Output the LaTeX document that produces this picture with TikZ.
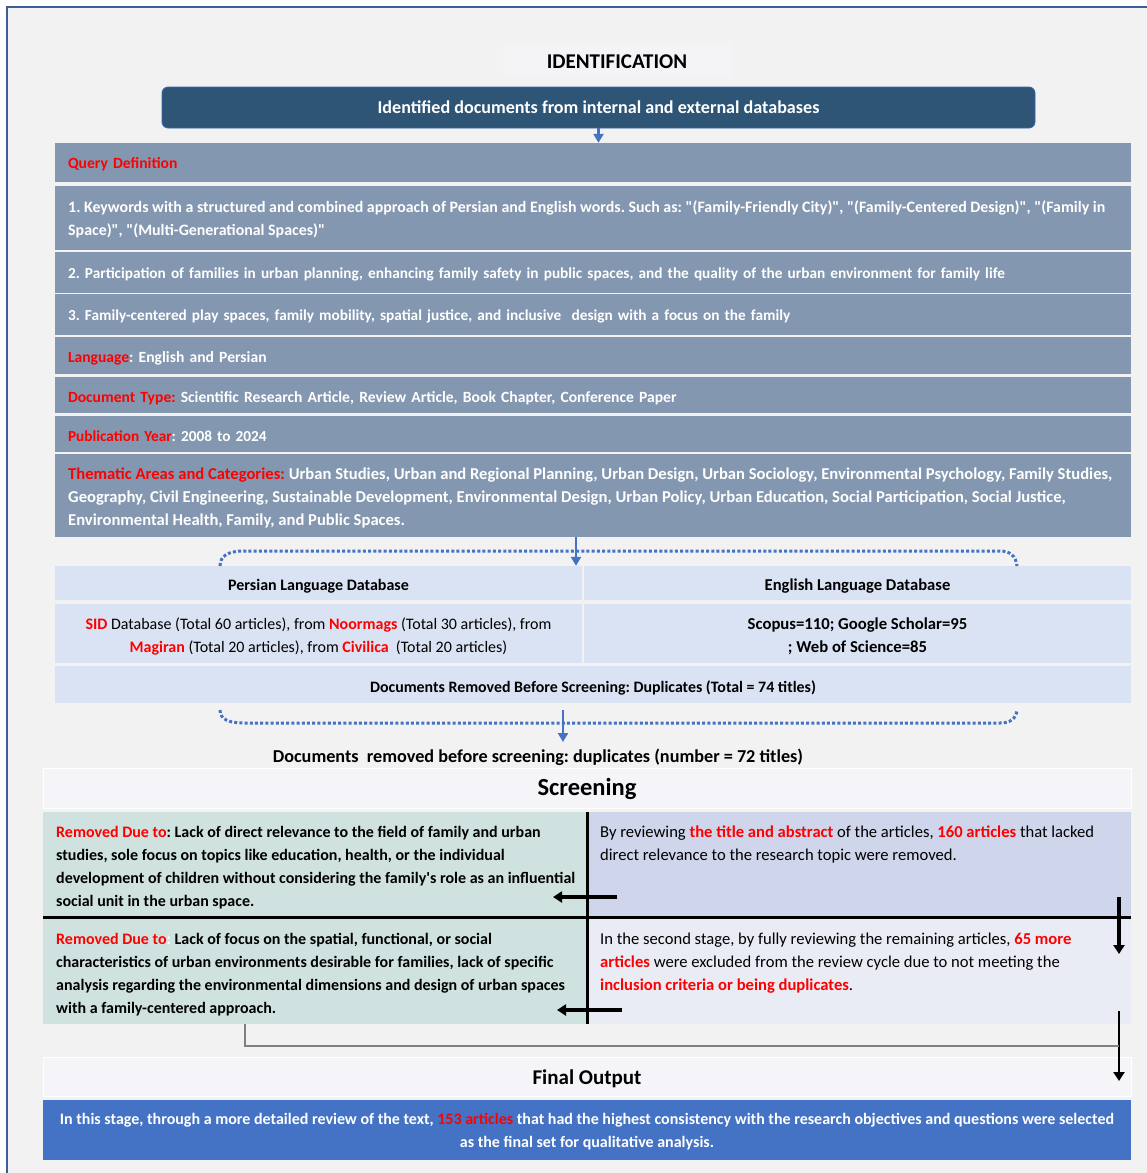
\documentclass[tikz,border=0pt]{standalone}
\usepackage{fontspec}
\setmainfont{Carlito}
\newfontfamily\carl{Carlito}
\usetikzlibrary{arrows.meta,calc}
\definecolor{bgc}{HTML}{F2F2F2}
\definecolor{framec}{HTML}{3C5F9A}
\definecolor{barc}{HTML}{8497B0}
\definecolor{dbcol}{HTML}{DAE3F3}
\definecolor{idc}{HTML}{F4F4F7}
\definecolor{darkc}{HTML}{2E5476}
\definecolor{slc}{HTML}{CFE2DF}
\definecolor{sraone}{HTML}{CFD5EA}
\definecolor{sratwo}{HTML}{E9EBF5}
\definecolor{hdc}{HTML}{F4F4F9}
\definecolor{finc}{HTML}{4472C4}
\definecolor{arrc}{HTML}{4472C4}
\definecolor{redc}{HTML}{FF0000}
\definecolor{grayline}{HTML}{808080}
\newcommand{\fsz}[1]{\fontsize{#1}{23}\selectfont}
\newcommand{\rd}[1]{\textcolor{redc}{#1}}
\newcommand{\rdb}[1]{\textcolor{redc}{\bfseries #1}}
\frenchspacing
\begin{document}
\carl\frenchspacing
\begin{tikzpicture}[x=1pt,y=-1pt,
  one/.style={text height=12pt, text depth=0pt},
  onehi/.style={text height=15pt, text depth=0pt},
  bar/.style={fill=barc, text width=1050pt, inner xsep=13pt, inner ysep=0pt, align=left, text=white, font=\carl\bfseries\fsz{15.3}},
  barfill/.style={fill=barc, minimum width=1076pt, inner sep=0pt},
  bartext/.style={inner sep=0pt, align=left, anchor=north west, text=white},
  dbcell/.style={fill=dbcol, inner sep=0pt, text=black, align=center},
  cell/.style={inner sep=0pt, minimum width=544pt},
  txt/.style={inner sep=0pt, align=left, anchor=north west},
  hdr/.style={fill=hdc, draw=white, line width=1pt, minimum width=1088pt, inner sep=0pt},
  bluearrow/.style={draw=arrc, line width=2.6pt, -{Triangle[length=9pt,width=10pt]}},
  dotbr/.style={draw=arrc, line width=3pt, dash pattern=on 3pt off 2.2pt},
  blackarrow/.style={draw=black, line width=3.2pt, -{Triangle[length=9pt,width=11pt]}},
]
\useasboundingbox (0,0) rectangle (1147,1173);
\fill[white] (0,0) rectangle (1147,1173);
\fill[bgc] (7,7) rectangle (1147,1173);
\draw[framec, line width=1.2pt] (7,1173) -- (7,7) -- (1147,7);

% Identification
\node[text height=17pt, text depth=0pt, fill=idc, minimum width=229pt, minimum height=34pt, inner sep=0pt, font=\carl\bfseries\fontsize{21}{24}\selectfont] (ident) at (617,60) {IDENTIFICATION};
\node[one, fill=darkc, draw=arrc!70!darkc, line width=0.8pt, rounded corners=6pt, minimum width=873pt, minimum height=41pt, inner sep=0pt, text=white, font=\carl\bfseries\fontsize{18.1}{21}\selectfont] (idbox) at (598.5,107.5) {Identified documents from internal and external databases};

\node[bar, one, minimum height=39pt, font=\carl\bfseries\fsz{15.6}] (q) at (593,162.5) {\rd{Query Definition}};
\node[barfill, minimum height=64pt] (r1) at (593,218) {};
\node[bartext, font=\carl\bfseries\fsz{15.9}] (r1t) at (68,200) {1. Keywords with a structured and combined approach of Persian and English words. Such as: "(Family-Friendly City)", "(Family-Centered Design)", "(Family in\\Space)", "(Multi-Generational Spaces)"};
\node[bar, one, minimum height=41pt] (r2) at (593,272.5) {2. Participation of families in urban planning, enhancing family safety in public spaces, and the quality of the urban environment for family life};
\node[bar, one, minimum height=41pt] (r3) at (593,314.5) {3. Family-centered play spaces, family mobility, spatial justice, and inclusive\ \ design with a focus on the family};
\node[bar, onehi, minimum height=37pt, font=\carl\bfseries\fsz{15.6}] (lang) at (593,355) {\rd{Language}: English and Persian};
\node[bar, onehi, minimum height=36pt, font=\carl\bfseries\fsz{15.6}] (doc) at (593,394.5) {\rd{Document Type:} Scientific Research Article, Review Article, Book Chapter, Conference Paper};
\node[bar, onehi, minimum height=36pt, font=\carl\bfseries\fsz{15.3}] (pub) at (593,434) {\rd{Publication Year}: 2008 to 2024};
\node[barfill, minimum height=83pt] (them) at (593,495.5) {};
\node[bartext, font=\carl\bfseries\fsz{16.6}] (themt) at (68,468) {\rd{Thematic Areas and Categories:} Urban Studies, Urban and Regional Planning, Urban Design, Urban Sociology, Environmental Psychology, Family Studies,\\Geography, Civil Engineering, Sustainable Development, Environmental Design, Urban Policy, Urban Education, Social Participation, Social Justice,\\Environmental Health, Family, and Public Spaces.};

\draw[bluearrow, line width=2.2pt] (idbox.south) -- (q.north -| idbox.south);

% database table
\node[dbcell, onehi, minimum width=527pt, minimum height=34pt, font=\carl\bfseries\fsz{16}] (hP) at (318.5,583) {Persian Language Database};
\node[dbcell, onehi, minimum width=547pt, minimum height=34pt, font=\carl\bfseries\fsz{16.6}] (hE) at (857.5,583) {English Language Database};
\node[dbcell, minimum width=527pt, minimum height=59pt] (cP) at (318.5,633.5) {};
\node[dbcell, minimum width=547pt, minimum height=59pt] (cE) at (857.5,633.5) {};
\node[inner sep=0pt, align=center, anchor=north, font=\carl\fsz{16}] (cPt) at (318.5,617.5) {\rdb{SID} Database (Total 60 articles), from \rdb{Noormags} (Total 30 articles), from\\\rdb{Magiran} (Total 20 articles), from \rdb{Civilica}\ \ (Total 20 articles)};
\node[inner sep=0pt, align=center, anchor=north, font=\carl\bfseries\fsz{16.7}] (cEt) at (857.5,617.5) {Scopus=110; Google Scholar=95\\; Web of Science=85};
\node[dbcell, onehi, minimum width=1076pt, minimum height=37pt, font=\carl\bfseries\fsz{15.9}] (dup) at (593,684.5) {Documents Removed Before Screening: Duplicates (Total = 74 titles)};

\coordinate (brA1) at (220,566);
\coordinate (brA2) at (1017,566);
\draw[dotbr] (brA1) .. controls (220,556) and (228,551) .. (244,551) -- (1000,551) .. controls (1010,551) and (1016,556) .. (brA2);
\draw[bluearrow] (them.south -| 576,0) -- (hP.north -| 576,0);

\coordinate (brB1) at (220,710);
\coordinate (brB2) at (1017,710);
\draw[dotbr] (brB1) .. controls (220,719) and (228,723) .. (244,723) -- (1000,723) .. controls (1010,723) and (1016,719) .. (brB2);

\node[inner sep=0pt, font=\carl\bfseries\fontsize{18.2}{21}\selectfont] (rem) at (538,757) {Documents\ \ removed before screening: duplicates (number = 72 titles)};
\coordinate (arB) at (563,710);
\draw[bluearrow] (arB) -- (563,742);

% Screening
\node[hdr, minimum height=40pt, font=\carl\bfseries\fontsize{24.5}{28}\selectfont] (scr) at (587,788.5) {Screening};
\node[cell, fill=slc, minimum height=105pt] (sl1) at (315,864.5) {};
\node[cell, fill=sraone, minimum height=105pt] (sr1) at (859,864.5) {};
\node[cell, fill=slc, minimum height=107pt] (sl2) at (315,970.5) {};
\node[cell, fill=sratwo, minimum height=107pt] (sr2) at (859,970.5) {};

\node[txt, font=\carl\bfseries\fsz{16}] (tl1) at (56,826) {\rd{Removed Due to}: Lack of direct relevance to the field\ of family and urban\\studies, sole focus on topics like education, health, or the individual\\development of children without considering the family's role as an influential\\social unit in the urban space.};
\node[txt, font=\carl\bfseries\fsz{16}] (tl2) at (56,933) {\rd{Removed Due to}\textcolor{white}{:} Lack of focus on the spatial, functional, or social\\characteristics of urban environments desirable for families, lack of specific\\analysis regarding the environmental dimensions and design of urban spaces\\with a family-centered approach.};
\node[txt, font=\carl\fsz{16.6}] (tr1) at (600,826) {By reviewing\ \rdb{the title and abstract} of the articles, \rdb{160 articles} that lacked\\direct relevance to the research topic were removed.};
\node[txt, font=\carl\fsz{16.6}] (tr2) at (600,933) {In the second stage, by fully reviewing the remaining articles, \rdb{65 more}\\\rdb{articles} were excluded from the review cycle due to not meeting the\\\rdb{inclusion criteria or being duplicates}.};

\draw[black, line width=3pt] (sl1.north east) -- (sl2.south east);
\draw[black, line width=3pt] (sl1.south west) -- (sr1.south east);

\coordinate (la1) at (617,897);
\coordinate (la2) at (622,1010);
\draw[blackarrow] (la1) -- (la1 -| 553,0);
\draw[blackarrow] (la2) -- (la2 -| 557,0);
\coordinate (da1) at (1119,897);
\coordinate (da2) at (1119,1011);
\draw[blackarrow] (da1) -- (1119,954);

% Final
\node[hdr, onehi, minimum height=39pt, font=\carl\bfseries\fontsize{21}{24}\selectfont] (fo) at (587,1076.5) {Final Output};
\draw[blackarrow, line width=2.6pt] (da2) -- (1119,1081);
\draw[grayline, line width=1.5pt] (sl2.south -| 245,0) -- (245,1046) -- (1119,1046);
\node[fill=finc, minimum width=1088pt, minimum height=60pt, inner sep=0pt] (fin) at (587,1130) {};
\node[inner sep=0pt, text=white, align=center, anchor=north, font=\carl\bfseries\fsz{16}] (fint) at (587,1113.5) {In this stage, through a more detailed review of the text, \rd{153 articles} that had the highest consistency with the research objectives and questions were selected\\as the final set for qualitative analysis.};
\end{tikzpicture}
\end{document}
